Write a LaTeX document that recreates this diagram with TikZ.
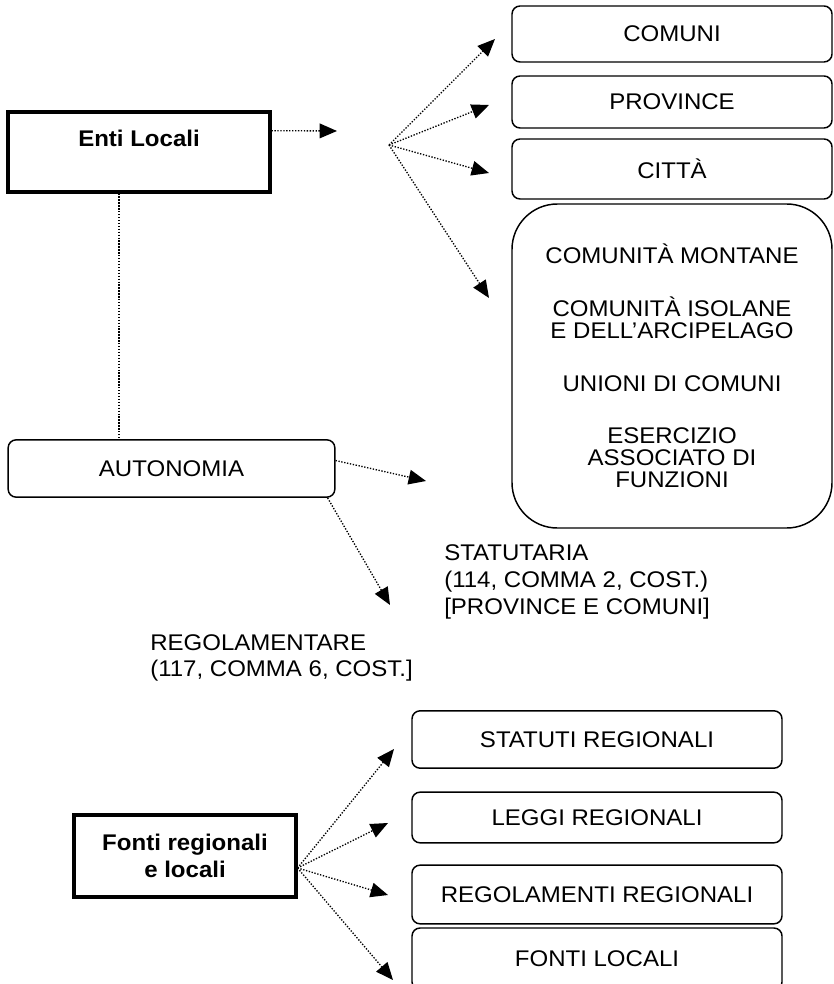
\documentclass[tikz,border=0pt]{standalone}
\usepackage{fontspec}
\setmainfont{Liberation Sans}[FakeStretch=1.06]
\usetikzlibrary{arrows.meta}
\usetikzlibrary{positioning}

\begin{document}
\begin{tikzpicture}[x=0.75pt,y=-0.75pt,font=\fontsize{17}{20}\selectfont]
  \tikzset{rbox/.style = {shape=rectangle,draw,rounded corners=6pt,line width=1.1pt,align=center,inner sep=0pt}}
  \tikzset{bigbox/.style = {shape=rectangle,draw,rounded corners=34pt,line width=1.1pt,align=center,inner sep=0pt,font=\fontsize{17}{16.5}\selectfont}}
  \tikzset{headbox/.style = {shape=rectangle,draw,line width=2.3pt,align=center,inner sep=0pt,font=\fontsize{17}{20}\selectfont\bfseries}}
  \tikzset{note/.style = {anchor=west,align=left,inner sep=0pt}}
  \tikzset{edge/.style = {-tipB,line width=1pt,dash pattern=on 1pt off 1.2pt}}
  \tikzset{%
  tipB/.tip={Triangle[length=13pt,width=11pt]},
}
  \useasboundingbox (0,0) rectangle (833,984);

	% top part
	\node[headbox,minimum width=196.5pt,minimum height=60pt] (enti) at (139,152) {Enti Locali\\~};
	\node[rbox,minimum width=245pt,minimum height=43pt] (auto) at (171.5,468.5) {AUTONOMIA};

	\node[rbox,minimum width=240pt,minimum height=42pt] (comuni) at (672,34) {COMUNI};
	\node[rbox,minimum width=240pt,minimum height=39pt] (prov) at (672,102) {PROVINCE};
	\node[rbox,minimum width=240pt,minimum height=45pt] (citta) at (672,169) {CITTÀ};
	\node[bigbox,minimum width=240pt,minimum height=243pt] (altri) at (672,366)
	  {COMUNITÀ MONTANE\\[23pt]COMUNITÀ ISOLANE\\E DELL’ARCIPELAGO\\[23pt]UNIONI DI COMUNI\\[23pt]ESERCIZIO\\ASSOCIATO DI\\FUNZIONI};

	\node[note] (stat) at (444,582) {STATUTARIA\\(114, COMMA 2, COST.)\\{[}PROVINCE E COMUNI{]}};
	\node[note] (regol) at (150,658) {REGOLAMENTARE\\(117, COMMA 6, COST.{]}};

	\coordinate (entiOut) at ([yshift=16pt]enti.east);
	\coordinate (entiTip) at (337,131);
	\coordinate (fanA) at (389,145);
	\coordinate (tComuni) at (495,39);
	\coordinate (tProv) at (489,105);
	\coordinate (tCitta) at (489,173);
	\coordinate (tAltri) at (489,298);
	\coordinate (autoOutA) at ([yshift=6pt]auto.east);
	\coordinate (autoTipA) at (426,481);
	\coordinate (autoOutB) at ([xshift=-6pt]auto.south east);
	\coordinate (autoTipB) at (390,605);

	\draw[line width=1pt,dash pattern=on 1pt off 1.2pt] ([xshift=-15pt]enti.south) -- ([xshift=-15pt]enti.south |- auto.north);

    \foreach \from/\to in {entiOut/entiTip, fanA/tComuni, fanA/tProv, fanA/tCitta, fanA/tAltri, autoOutA/autoTipA, autoOutB/autoTipB}
    \path[edge](\from) edge (\to);

	% bottom part
	\node[headbox,minimum width=166.5pt,minimum height=61.5pt] (fonti) at (185,856) {Fonti regionali\\e locali};

	\node[rbox,minimum width=277.5pt,minimum height=43pt] (statuti) at (597,739.5) {STATUTI REGIONALI};
	\node[rbox,minimum width=277.5pt,minimum height=38pt] (leggi) at (597,817.5) {LEGGI REGIONALI};
	\node[rbox,minimum width=277.5pt,minimum height=44pt] (regola) at (597,894.5) {REGOLAMENTI REGIONALI};
	\node[rbox,minimum width=277.5pt,minimum height=46.5pt] (locali) at (597,959) {FONTI LOCALI};

	\coordinate (fanB) at ([yshift=-9pt]fonti.east);
	\coordinate (tStatuti) at (394,749);
	\coordinate (tLeggi) at (388,823);
	\coordinate (tRegola) at (388,895);
	\coordinate (tLocali) at (393,980);

    \foreach \to in {tStatuti, tLeggi, tRegola, tLocali}
    \path[edge](fanB) edge (\to);

\end{tikzpicture}
\end{document}
